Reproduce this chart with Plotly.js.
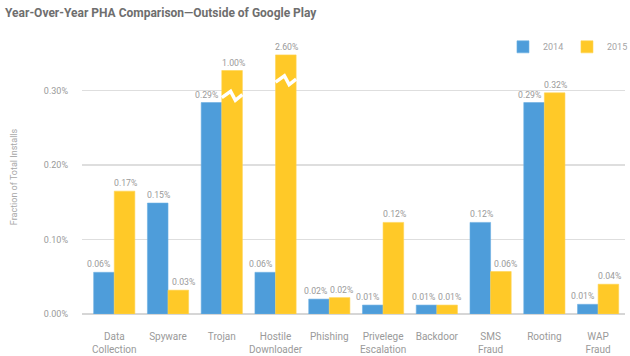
<!DOCTYPE html>
<html>
<head>
<meta charset="utf-8">
<script src="https://cdn.plot.ly/plotly-3.0.1.min.js"></script>
<style>html,body{margin:0;padding:0;background:#fff;}#chart{width:630px;height:356px;}</style>
</head>
<body>
<div id="chart"></div>
<script>
// ---- data ----
const categories = ["Data<br>Collection", "Spyware", "Trojan", "Hostile<br>Downloader", "Phishing",
  "Privelege<br>Escalation", "Backdoor", "SMS<br>Fraud", "Rooting", "WAP<br>Fraud"];
const series = ["2014", "2015"];
// fraction of total installs (%)
const values2014 = [0.056, 0.149, 0.284, 0.056, 0.020, 0.012, 0.012, 0.123, 0.284, 0.013];
const values2015 = [0.165, 0.032, 1.00, 2.60, 0.022, 0.123, 0.012, 0.057, 0.297, 0.040];
// printed labels
const labels2014 = ["0.06%", "0.15%", "0.29%", "0.06%", "0.02%", "0.01%", "0.01%", "0.12%", "0.29%", "0.01%"];
const labels2015 = ["0.17%", "0.03%", "1.00%", "2.60%", "0.02%", "0.12%", "0.01%", "0.06%", "0.32%", "0.04%"];
// bars that run off the scale are drawn truncated at this height, with a break mark
const truncatedHeight2015 = [null, null, 0.327, 0.348, null, null, null, null, null, null];
const yTickVals = [0, 0.1, 0.2, 0.3];
const yTickText = ["0.00%", "0.10%", "0.20%", "0.30%"];

// ---- styling ----
const blue = "#4e9dda";
const yellow = "#ffc928";
const grey = "#9a9a9a";
const bargap = 0.234;
const barW = (1 - bargap) / 2;

const idx = categories.map((_, i) => i);
const shown2015 = values2015.map((v, i) => truncatedHeight2015[i] != null ? truncatedHeight2015[i] : v);

const traces = [
  {type: "bar", name: series[0], x: idx, y: values2014, marker: {color: blue, line: {color: "#6aaee3", width: 0.6}},
   hoverinfo: "skip"},
  {type: "bar", name: series[1], x: idx, y: shown2015, marker: {color: yellow, line: {color: "#ffd450", width: 0.6}},
   hoverinfo: "skip"}
];

// break marks (white zig-zag across truncated bars)
const zigFrac = [0, 0.43, 0.66, 1];
const zigOff = [-0.0025, 0.006, -0.006, 0.0015];
truncatedHeight2015.forEach((h, i) => {
  if (h == null) return;
  const c = h - 0.034;
  traces.push({type: "scatter", mode: "lines", showlegend: false, hoverinfo: "skip",
    x: zigFrac.map(f => i + f * barW), y: zigOff.map(o => c + o),
    line: {color: "#ffffff", width: 3.5}});
});

// value labels above bars; nudged sideways away from a taller / equal sibling bar
const annotations = [];
const tol = 0.005;
idx.forEach(i => {
  const a = values2014[i], b = shown2015[i];
  const nudgeA = (b > a + tol) ? -5 : (Math.abs(a - b) <= tol ? -3.5 : 1);
  const nudgeB = (a > b + tol) ? 5 : (Math.abs(a - b) <= tol ? 2 : 1);
  const font = {size: 8.7, color: grey, family: "Roboto"};
  annotations.push({x: i - barW / 2, y: a, xref: "x", yref: "y", text: labels2014[i], showarrow: false,
    xanchor: "center", yanchor: "bottom", xshift: nudgeA, yshift: 1, font: font});
  annotations.push({x: i + barW / 2, y: b, xref: "x", yref: "y", text: labels2015[i], showarrow: false,
    xanchor: "center", yanchor: "bottom", xshift: nudgeB, yshift: 1, font: font});
});

const layout = {
  width: 630, height: 356,
  margin: {l: 82, r: 5, t: 40, b: 41.5, autoexpand: false},
  paper_bgcolor: "#fff", plot_bgcolor: "#fff",
  font: {family: "Roboto, sans-serif", color: grey},
  title: {text: "<b>Year-Over-Year PHA Comparison\u2014Outside of Google Play</b>",
    x: 0.008, xanchor: "left", y: 0.963, yanchor: "middle",
    font: {size: 12, color: "#6e6e6e", family: "Roboto"}},
  barmode: "group", bargap: bargap, bargroupgap: 0,
  showlegend: true,
  legend: {orientation: "h", x: 1.011, xanchor: "right", y: 0.975, yanchor: "middle",
    entrywidth: 19, entrywidthmode: "pixels",
    font: {size: 9, color: "#a5a5a5"}, traceorder: "normal", bgcolor: "rgba(0,0,0,0)"},
  annotations: annotations,
  xaxis: {range: [-0.6, 9.5], tickmode: "array", tickvals: idx, ticktext: categories,
    showgrid: false, zeroline: false, showline: false, ticks: "", tickangle: 0,
    tickfont: {size: 10, color: grey}, ticklabelstandoff: 15, fixedrange: true},
  yaxis: {range: [0, 0.368], tickmode: "array", tickvals: yTickVals, ticktext: yTickText,
    showgrid: true, gridcolor: "#dedede", gridwidth: 1.5, zeroline: true, zerolinecolor: "#d6d6d6", zerolinewidth: 1.5,
    showline: false, ticks: "", tickfont: {size: 9, color: grey}, ticklabelstandoff: 13,
    title: {text: "Fraction of Total Installs", font: {size: 9, color: "#a8a8a8"}, standoff: 24}, fixedrange: true}
};

Plotly.newPlot("chart", traces, layout, {displayModeBar: false, staticPlot: true});
</script>
</body>
</html>
